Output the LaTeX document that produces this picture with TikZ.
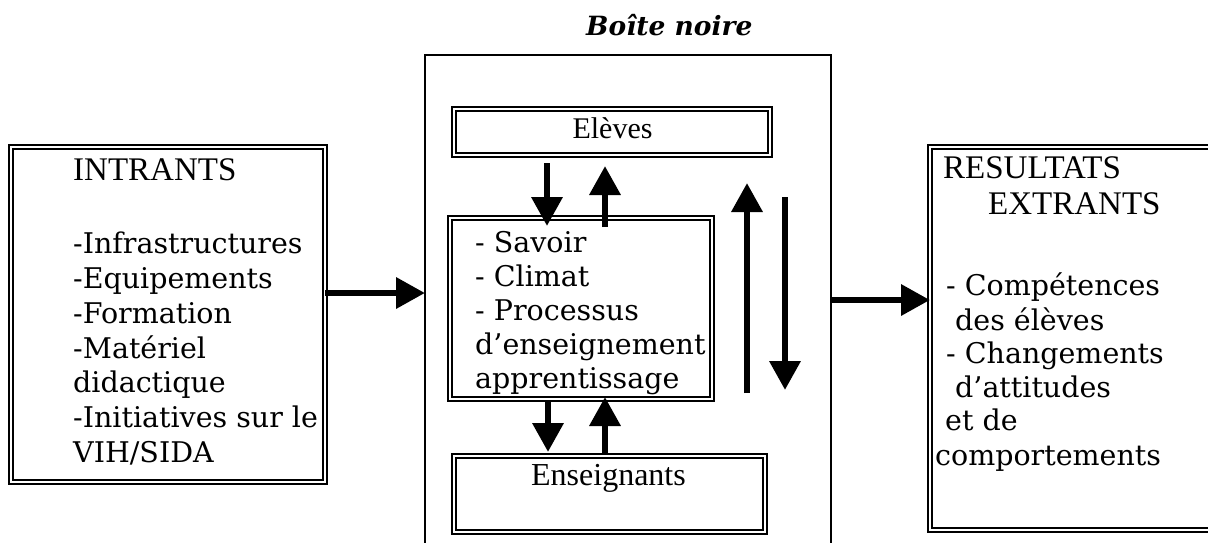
\documentclass[tikz,border=0pt]{standalone}
\usepackage{fontspec}
\setmainfont{DejaVu Serif}
\newfontfamily\tnr{Liberation Serif}
\usetikzlibrary{arrows.meta}
\begin{document}
\begin{tikzpicture}[x=1pt,y=-1pt,
  dbox/.style={draw, line width=1.8pt, double=white, double distance=2.2pt, inner sep=0pt, outer sep=0pt},
  frame/.style={draw, line width=2.5pt, inner sep=0pt, outer sep=0pt},
  big/.style={line width=6.5pt, -{Triangle[length=29pt,width=30pt]}},
  txt/.style={anchor=base west, inner sep=0pt, font=\fontsize{28.5}{34}\selectfont},
  hd/.style={anchor=base west, inner sep=0pt, font=\tnr\fontsize{33}{40}\selectfont},
  lab/.style={anchor=base, inner sep=0pt, font=\tnr\fontsize{30}{36}\selectfont},
  ttl/.style={anchor=base west, inner sep=0pt, font=\bfseries\itshape\fontsize{26.5}{30}\selectfont}
]
\useasboundingbox (0,0) rectangle (1208,542);
\fill[white] (0,0) rectangle (1208,542);
\clip (0,0) rectangle (1208,542);

% boxes
\node[dbox, minimum width=314pt, minimum height=335pt] (intr) at (168,314.5) {};
\node[frame, minimum width=406pt, minimum height=600pt, anchor=north] (bb) at (628,55) {};
\node[dbox, minimum width=316pt, minimum height=46pt] (elv) at (612,132) {};
\node[dbox, minimum width=262pt, minimum height=181pt] (sav) at (581,308.5) {};
\node[dbox, minimum width=311pt, minimum height=76pt] (ens) at (609.5,494) {};
\node[dbox, minimum width=310pt, minimum height=383pt] (res) at (1085,338.5) {};

% title
\node[ttl] (title) at (586,35) {Boîte noire};

% left texts
\node[hd] (i0) at (73,180) {INTRANTS};
\node[txt] (i1) at (73,253) {-Infrastructures};
\node[txt] (i2) at (73,288) {-Equipements};
\node[txt] (i3) at (73,323) {-Formation};
\node[txt] (i4) at (73,358) {-Matériel};
\node[txt] (i5) at (73,392) {didactique};
\node[txt] (i6) at (73,427) {-Initiatives sur le};
\node[txt] (i7) at (73,462) {VIH/SIDA};

% centre texts
\node[lab] (te) at (612.5,138) {Elèves};
\node[lab, font=\tnr\fontsize{32}{36}\selectfont] (tn) at (608.5,485) {Enseignants};
\node[txt] (s1) at (475,252) {- Savoir};
\node[txt] (s2) at (475,286) {- Climat};
\node[txt] (s3) at (475,320) {- Processus};
\node[txt] (s4) at (475,354) {d’enseignement};
\node[txt] (s5) at (475,388) {apprentissage};

% right texts
\node[hd] (r0) at (943,178) {RESULTATS};
\node[hd] (r1) at (988,214) {EXTRANTS};
\node[txt] (r2) at (946,295) {- Compétences};
\node[txt] (r3) at (955,330) {des élèves};
\node[txt] (r4) at (946,363) {- Changements};
\node[txt] (r5) at (955,397) {d’attitudes};
\node[txt] (r6) at (945,430) {et de};
\node[txt] (r7) at (935,465) {comportements};

% arrows
\coordinate (ya) at (0,293);
\coordinate (yb) at (0,300);
\coordinate (xd) at (547,0);
\coordinate (xd2) at (548,0);
\coordinate (xu) at (605,0);
\draw[big] (intr.east |- ya) -- (bb.west |- ya);
\draw[big] (bb.east |- yb) -- (res.west |- yb);
\draw[big] ([yshift=-8pt]elv.south -| xd) -- ([yshift=-8pt]sav.north -| xd);
\draw[big] ([yshift=-9pt]sav.north -| xu) -- ([yshift=-11pt]elv.south -| xu);
\draw[big] ([yshift=-3pt]sav.south -| xd2) -- ([yshift=4pt]ens.north -| xd2);
\draw[big] ([yshift=3pt]ens.north -| xu) -- ([yshift=2pt]sav.south -| xu);
\coordinate (ru0) at (747,393);
\coordinate (ru1) at (747,183);
\coordinate (rd0) at (785,197);
\coordinate (rd1) at (785,390);
\draw[big] (ru0) -- (ru1);
\draw[big] (rd0) -- (rd1);
\end{tikzpicture}
\end{document}
